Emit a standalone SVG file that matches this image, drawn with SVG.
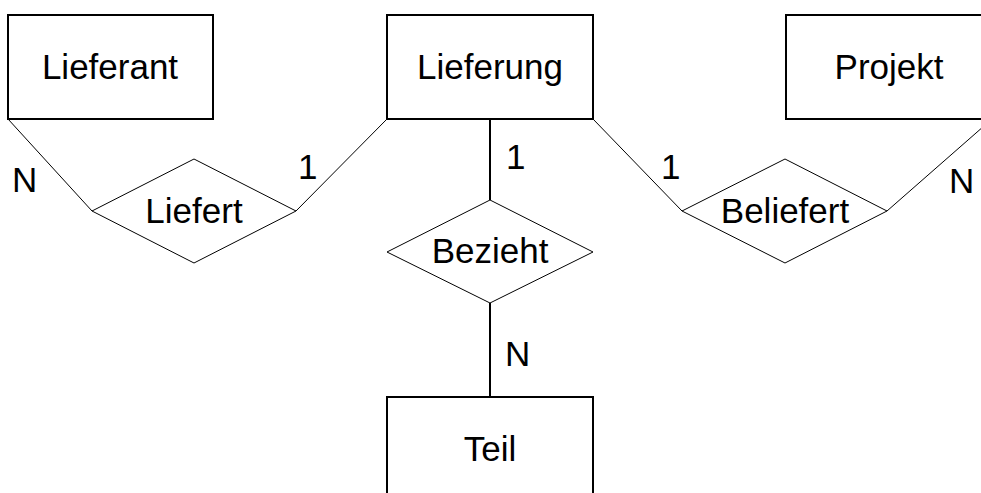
<svg xmlns="http://www.w3.org/2000/svg" width="981" height="493" viewBox="0 0 981 493">
<style>
.ent{fill:#fff;stroke:#000;stroke-width:2}
.rel{fill:#fff;stroke:#000;stroke-width:1}
.ln{stroke:#000;stroke-width:1;fill:none}
.vl{stroke:#000;stroke-width:2;fill:none}
text{font-family:"Liberation Sans",Arial,sans-serif;font-size:35px;fill:#000}
.c{text-anchor:middle}
</style>
<rect width="981" height="493" fill="#fff"/>
<g id="connectors">
<line class="ln" x1="8" y1="119" x2="92" y2="211"/>
<line class="ln" x1="296" y1="211" x2="387" y2="119"/>
<line class="vl" x1="490" y1="119" x2="490" y2="200"/>
<line class="vl" x1="490" y1="303" x2="490" y2="397"/>
<line class="ln" x1="593" y1="119" x2="682" y2="211"/>
<line class="ln" x1="887" y1="211" x2="992" y2="119"/>
<text x="12" y="192">N</text>
<text x="298" y="179">1</text>
<text x="506" y="169">1</text>
<text x="661" y="179">1</text>
<text x="949" y="193">N</text>
<text x="505" y="366">N</text>
</g>
<g id="Lieferant"><rect class="ent" x="8" y="15" width="205" height="104"/><text class="c" x="110" y="79">Lieferant</text></g>
<g id="Lieferung"><rect class="ent" x="387" y="15" width="206" height="104"/><text class="c" x="490" y="79">Lieferung</text></g>
<g id="Projekt"><rect class="ent" x="786" y="15" width="206" height="104"/><text class="c" x="889" y="79">Projekt</text></g>
<g id="Teil"><rect class="ent" x="387" y="397" width="206" height="104"/><text class="c" x="490" y="461">Teil</text></g>
<g id="Liefert"><polygon class="rel" points="92,211 194,159 296,211 194,263"/><text class="c" x="194" y="223">Liefert</text></g>
<g id="Bezieht"><polygon class="rel" points="387,252 490,200 593,252 490,303"/><text class="c" x="490" y="263">Bezieht</text></g>
<g id="Beliefert"><polygon class="rel" points="682,211 785,159 887,211 785,263"/><text class="c" x="785" y="223">Beliefert</text></g>
</svg>
